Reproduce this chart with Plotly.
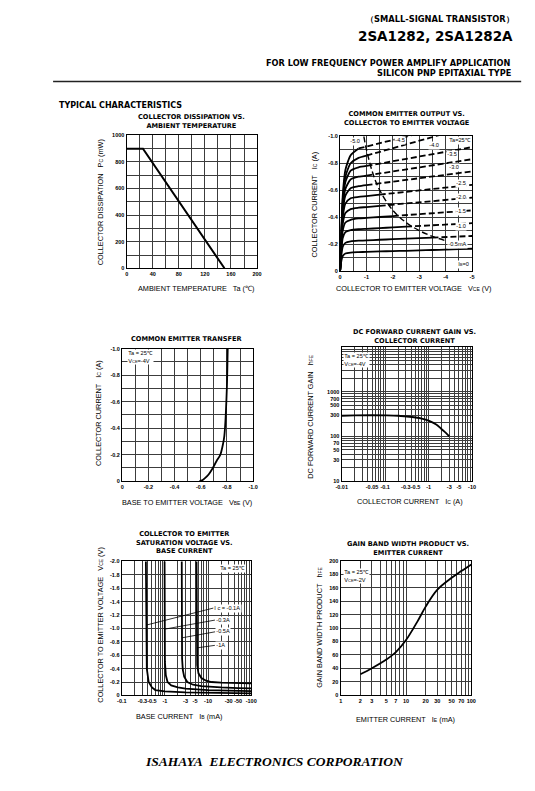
import numpy as np
import plotly.graph_objects as go

# page is 535x791; the browser body has an 8px margin, so the figure is 8px smaller
OFF = 8
FW, FH = 535 - OFF, 791 - OFF

# ---------------- DATA ----------------
# 1. Collector dissipation vs ambient temperature
ta_c = [0, 25, 150]
pc_mw = [900, 900, 0]
p1_xvals = [0, 20, 40, 60, 80, 100, 120, 140, 160, 180, 200]
p1_xtext = ['0', '', '40', '', '80', '', '120', '', '160', '', '200']
p1_yvals = [0, 100, 200, 300, 400, 500, 600, 700, 800, 900, 1000]
p1_ytext = ['0', '', '200', '', '400', '', '600', '', '800', '', '1000']

# 2. Common emitter output (magnitudes, V and A)
vce_grid = [0, 0.05, 0.1, 0.2, 0.4, 0.7, 1.0, 1.5, 2.0, 2.5, 3.0, 3.5, 4.0, 4.5, 5.0]
ic_curves = [
    [0, .077, .112, .130, .137, .140, .142, .145, .148, .150, .153, .156, .159, .162, .165],
    [0, .12, .18, .209, .22, .225, .227, .232, .236, .240, .244, .248, .252, .256, .260],
    [0, .16, .245, .288, .303, .310, .313, .318, .324, .329, .334, .339, .345, .350, .355],
    [0, .20, .30, .36, .38, .39, .394, .401, .408, .415, .422, .429, .436, .443, .450],
    [0, .22, .35, .43, .46, .47, .475, .484, .493, .501, .510, .519, .528, .536, .545],
    [0, .24, .40, .50, .54, .55, .556, .567, .577, .588, .598, .609, .619, .630, .640],
    [0, .26, .44, .56, .615, .63, .638, .650, .663, .676, .689, .702, .714, .727, .740],
    [0, .27, .47, .61, .68, .70, .709, .724, .739, .754, .770, .785, .800, .815, .830],
    [0, .28, .50, .66, .745, .77, .780, .798, .815, .833, .850, .868, .885, .903, .920],
    [0, .29, .53, .70, .80, .84, .857, .884, .912, .939, .967, .994, 1.02, 1.05, 1.07],
    [0, .30, .56, .75, .86, .91, .925, .948, .970, .995, 1.02, 1.045, 1.07, 1.09, 1.11],
]
pc_limit_w = 0.9
pd_vce = [0.9, 1.0, 1.25, 1.5, 2.0, 2.5, 3.0, 3.5, 4.0]
pd_ic = [1.0, 0.9, 0.72, 0.6, 0.45, 0.36, 0.30, 0.257, 0.225]
p2_xvals = [0, -0.5, -1, -1.5, -2, -2.5, -3, -3.5, -4, -4.5, -5]
p2_xtext = ['0', '', '-1', '', '-2', '', '-3', '', '-4', '', '-5']
ic_vals = [0, -0.1, -0.2, -0.3, -0.4, -0.5, -0.6, -0.7, -0.8, -0.9, -1.0]
ic_text = ['0', '', '-0.2', '', '-0.4', '', '-0.6', '', '-0.8', '', '-1.0']
ib_labels = ['-5.0', '-4.5', '-4.0', '-3.5', '-3.0', '-2.5', '-2.0', '-1.5', '-1.0', '-0.5mA']

# 3. Common emitter transfer
vbe_v = [0.59, 0.61, 0.63, 0.66, 0.69, 0.72, 0.75, 0.77, 0.78, 0.79, 0.80, 0.806]
ic_t = [0, 0.005, 0.02, 0.05, 0.095, 0.15, 0.20, 0.28, 0.34, 0.48, 0.72, 1.0]
p3_xvals = [0, -0.1, -0.2, -0.3, -0.4, -0.5, -0.6, -0.7, -0.8, -0.9, -1.0]
p3_xtext = ['0', '', '-0.2', '', '-0.4', '', '-0.6', '', '-0.8', '', '-1.0']

# 4. DC forward current gain
ic_h = [0.01, 0.02, 0.05, 0.1, 0.2, 0.3, 0.5, 0.7, 1.0, 1.5, 2.0, 2.5, 3.0]
hfe = [290, 295, 298, 296, 290, 280, 265, 250, 225, 185, 145, 120, 100]
p4_xlab = {0.01: '-0.01', 0.05: '-0.05', 0.1: '-0.1', 0.3: '-0.3', 0.5: '-0.5',
           1: '-1', 3: '-3', 5: '-5', 10: '-10'}
p4_ylab = {10: '10', 30: '30', 50: '50', 70: '70', 100: '100', 300: '300',
           500: '500', 700: '700', 1000: '1000'}

# 5. Vce(sat) vs base current (magnitudes)
ib_c1 = [0.36, 0.365, 0.38, 0.42, 0.5, 0.6, 1.0, 3, 10, 30, 100]
vs_c1 = [2.2, 1.0, 0.4, 0.2, 0.12, 0.08, 0.06, 0.045, 0.038, 0.033, 0.03]
ib_c2 = [0.98, 0.99, 1.0, 1.05, 1.15, 1.4, 2, 3, 5, 10, 30, 100]
vs_c2 = [2.2, 1.0, 0.5, 0.3, 0.2, 0.15, 0.12, 0.1, 0.09, 0.08, 0.072, 0.065]
ib_c3 = [2.45, 2.48, 2.5, 2.6, 2.8, 3.3, 4.5, 7, 10, 20, 50, 100]
vs_c3 = [2.2, 1.0, 0.55, 0.38, 0.28, 0.2, 0.16, 0.14, 0.13, 0.12, 0.11, 0.105]
ib_c4 = [5.4, 5.45, 5.5, 5.6, 6.0, 7.0, 9, 12, 20, 40, 100]
vs_c4 = [2.2, 1.0, 0.6, 0.45, 0.33, 0.26, 0.22, 0.2, 0.19, 0.185, 0.18]
p5_xlab = {0.1: '-0.1', 0.3: '-0.3', 0.5: '-0.5', 1: '-1', 3: '-3', 5: '-5',
           10: '-10', 30: '-30', 50: '-50', 100: '-100'}
p5_yvals = [0, -0.2, -0.4, -0.6, -0.8, -1.0, -1.2, -1.4, -1.6, -1.8, -2.0]
p5_ytext = ['0', '-0.2', '-0.4', '-0.6', '-0.8', '-1.0', '-1.2', '-1.4', '-1.6', '-1.8', '-2.0']
ic_sat_labels = ['I c = -0.1A', '-0.3A', '-0.5A', '-1A']

# 6. Gain band width product vs emitter current
ie_ma = [2, 3, 5, 7, 10, 15, 20, 30, 50, 70, 100]
ft_v = [31, 40, 53, 64, 82, 110, 132, 157, 175, 185, 195]
p6_xlab = {1: '1', 2: '2', 3: '3', 5: '5', 7: '7', 10: '10', 20: '20', 30: '30',
           50: '50', 70: '70', 100: '100'}
p6_yvals = list(range(0, 201, 20))

# ---------------- HELPERS ----------------
def log_grid(lo_exp, hi_exp):
    vals = []
    for e in range(lo_exp, hi_exp):
        for m in range(1, 10):
            vals.append(round(m * 10 ** e, 6))
    vals.append(round(10 ** hi_exp, 6))
    return vals

def labelled(vals, labmap):
    out = []
    for v in vals:
        key = int(v) if float(v).is_integer() else v
        out.append(labmap.get(key, ''))
    return out

def px(x):
    return (x - OFF) / FW

def py(y):
    return 1 - (y - OFF) / FH

def dx(a, b):
    return [px(a), px(b)]

def dy(a, b):
    return [py(b), py(a)]

GRID = '#3c3c3c'
TF = dict(family='Liberation Sans, Arial, sans-serif', size=5.5, color='black', weight='bold')

def axis(domain, anchor, rng, tickvals, ticktext, typ='linear'):
    return dict(domain=domain, anchor=anchor, range=rng, type=typ, tickmode='array',
                tickvals=tickvals, ticktext=ticktext, showgrid=True, gridcolor=GRID,
                gridwidth=0.9, showline=True, mirror=True, linecolor='black',
                linewidth=1.4, zeroline=False, ticks='', tickfont=TF, tickangle=0,
                fixedrange=True)

fig = go.Figure()
LW = 1.8

# Plot 1
fig.add_trace(go.Scatter(x=ta_c, y=pc_mw, mode='lines', line=dict(color='black', width=2),
                         xaxis='x', yaxis='y', showlegend=False))

# Plot 2
vg = np.array(vce_grid)
for cur in ic_curves:
    ic = np.array(cur)
    over = np.where(vg * ic > pc_limit_w)[0]
    k = over[0] - 1 if len(over) else len(vg) - 1
    fig.add_trace(go.Scatter(x=-vg[:k + 1], y=-ic[:k + 1], mode='lines',
                             line=dict(color='black', width=LW, shape='spline', smoothing=0.6),
                             xaxis='x2', yaxis='y2', showlegend=False))
    if k < len(vg) - 1:
        fig.add_trace(go.Scatter(x=-vg[k:], y=-ic[k:], mode='lines',
                                 line=dict(color='black', width=LW, dash='6px,3px'),
                                 xaxis='x2', yaxis='y2', showlegend=False))
fig.add_trace(go.Scatter(x=-np.array(pd_vce), y=-np.array(pd_ic), mode='lines',
                         line=dict(color='black', width=1.4, dash='6px,3px', shape='spline'),
                         xaxis='x2', yaxis='y2', showlegend=False))

# Plot 3
fig.add_trace(go.Scatter(x=-np.array(vbe_v), y=-np.array(ic_t), mode='lines',
                         line=dict(color='black', width=LW, shape='spline', smoothing=0.7),
                         xaxis='x3', yaxis='y3', showlegend=False))

# Plot 4
fig.add_trace(go.Scatter(x=ic_h, y=hfe, mode='lines',
                         line=dict(color='black', width=LW, shape='spline'),
                         xaxis='x4', yaxis='y4', showlegend=False))

# Plot 5
for ib, vs in [(ib_c1, vs_c1), (ib_c2, vs_c2), (ib_c3, vs_c3), (ib_c4, vs_c4)]:
    fig.add_trace(go.Scatter(x=ib, y=-np.array(vs), mode='lines',
                             line=dict(color='black', width=LW),
                             xaxis='x5', yaxis='y5', showlegend=False))

# Plot 6
fig.add_trace(go.Scatter(x=ie_ma, y=ft_v, mode='lines',
                         line=dict(color='black', width=LW, shape='spline'),
                         xaxis='x6', yaxis='y6', showlegend=False))

# ---------------- AXES ----------------
p4x = log_grid(-2, 1)
p4y = log_grid(1, 4)
p5x = log_grid(-1, 2)
p6x = log_grid(0, 2)

layout = dict(
    width=FW, height=FH, margin=dict(l=0, r=0, t=0, b=0, pad=0), autosize=False,
    paper_bgcolor='white', plot_bgcolor='white', showlegend=False,
    xaxis=axis(dx(123.3, 256.7), 'y', [0, 200], p1_xvals, p1_xtext),
    yaxis=axis(dy(133.3, 267.3), 'x', [0, 1000], p1_yvals, p1_ytext),
    xaxis2=axis(dx(341.7, 476.7), 'y2', [0, -5], p2_xvals, p2_xtext),
    yaxis2=axis(dy(134.3, 270), 'x2', [0, -1.0], ic_vals, ic_text),
    xaxis3=axis(dx(118.7, 252.7), 'y3', [0, -1.0], p3_xvals, p3_xtext),
    yaxis3=axis(dy(348.3, 481.7), 'x3', [0, -1.0], ic_vals, ic_text),
    xaxis4=axis(dx(343.3, 476.7), 'y4', [-2, 1], p4x, labelled(p4x, p4_xlab), 'log'),
    yaxis4=axis(dy(346.7, 481.7), 'x4', [1, 4], p4y, labelled(p4y, p4_ylab), 'log'),
    xaxis5=axis(dx(118.3, 250.7), 'y5', [-1, 2], p5x, labelled(p5x, p5_xlab), 'log'),
    yaxis5=axis(dy(562.7, 697.7), 'x5', [0, -2.0], p5_yvals, p5_ytext),
    xaxis6=axis(dx(342.3, 476.0), 'y6', [0, 2], p6x, labelled(p6x, p6_xlab), 'log'),
    yaxis6=axis(dy(562.3, 697.3), 'x6', [0, 200], p6_yvals, [str(v) for v in p6_yvals]),
)
fig.update_layout(**layout)

# ---------------- TEXT ----------------
ann = []
SANS = 'Liberation Sans, Arial, sans-serif'
DJ = 'DejaVu Sans, sans-serif'
NB = '\u00a0\u00a0\u00a0'

def ptxt(x, y, text, size, family=SANS, weight='normal', xanchor='center', angle=0, style='normal'):
    ann.append(dict(x=px(x), y=py(y), xref='paper', yref='paper', text=text, showarrow=False,
                    xanchor=xanchor, yanchor='middle', textangle=angle,
                    font=dict(family=family, size=size, color='black', weight=weight, style=style)))

def sm(t, s=5):
    return "<span style='font-size:%spx'>%s</span>" % (s, t)

# header
ptxt(522, 16, '\uff08SMALL-SIGNAL TRANSISTOR\uff09', 8.3, DJ, 'bold', 'right')
ptxt(521, 33, '2SA1282, 2SA1282A', 13.5, DJ, 'bold', 'right')
ptxt(519, 60.5, 'FOR LOW FREQUENCY POWER AMPLIFY APPLICATION', 8.2, DJ, 'bold', 'right')
ptxt(519, 70.5, 'SILICON PNP EPITAXIAL TYPE', 8.2, DJ, 'bold', 'right')
ptxt(52, 103.5, 'TYPICAL CHARACTERISTICS', 8, DJ, 'bold', 'left')

# subplot titles
ptxt(190, 119.5, 'COLLECTOR DISSIPATION VS.<br>AMBIENT TEMPERATURE', 6.6, DJ, 'bold')
ptxt(410, 116, 'COMMON EMITTER OUTPUT VS.<br>COLLECTOR TO EMITTER VOLTAGE', 6.6, DJ, 'bold')
ptxt(185, 339, 'COMMON EMITTER TRANSFER', 6.6, DJ, 'bold')
ptxt(418, 336, 'DC FORWARD CURRENT GAIN VS.<br>COLLECTOR CURRENT', 6.6, DJ, 'bold')
ptxt(182.5, 544, 'COLLECTOR TO EMITTER<br>SATURATION VOLTAGE VS.<br>BASE CURRENT', 6.6, DJ, 'bold')
ptxt(411, 549.5, 'GAIN BAND WIDTH PRODUCT VS.<br>EMITTER CURRENT', 6.6, DJ, 'bold')

# axis titles
AS = 7.3
ptxt(96.7, 201, 'COLLECTOR DISSIPATION' + NB + 'P' + sm('C') + ' (mW)', AS, angle=-90)
ptxt(194, 288, 'AMBIENT TEMPERATURE' + NB + 'Ta (\u2103)', AS)
ptxt(315, 203, 'COLLECTOR CURRENT' + NB + 'I' + sm('C') + ' (A)', AS, angle=-90)
ptxt(417, 288, 'COLLECTOR TO EMITTER VOLTAGE' + NB + 'V' + sm('CE') + ' (V)', AS)
ptxt(95, 413, 'COLLECTOR CURRENT' + NB + 'I' + sm('C') + ' (A)', AS, angle=-90)
ptxt(185, 503, 'BASE TO EMITTER VOLTAGE' + NB + 'V' + sm('BE') + ' (V)', AS)
ptxt(311.7, 417, 'DC FORWARD CURRENT GAIN' + NB + 'h' + sm('FE'), AS, angle=-90)
ptxt(413, 502.7, 'COLLECTOR CURRENT' + NB + 'I' + sm('C') + ' (A)', AS)
ptxt(96.7, 626.7, 'COLLECTOR TO EMITTER VOLTAGE' + NB + 'V' + sm('CE') + ' (V)', AS, angle=-90)
ptxt(176.7, 719.3, 'BASE CURRENT' + NB + 'I' + sm('B') + ' (mA)', AS)
ptxt(320.7, 629, 'GAIN BAND WIDTH PRODUCT' + NB + 'h' + sm('FE'), AS, angle=-90)
ptxt(409, 721.7, 'EMITTER CURRENT' + NB + 'I' + sm('E') + ' (mA)', AS)

# footer
ptxt(275, 764, 'ISAHAYA\u00a0\u00a0ELECTRONICS CORPORATION', 13.5, 'Liberation Serif, Times New Roman, serif',
     'bold', style='italic')

# in-plot labels
LF = dict(family=SANS, size=5.6, color='black')

def dtxt(xr, yr, x, y, text, xanchor='center', bg='white'):
    ann.append(dict(x=x, y=y, xref=xr, yref=yr, text=text, showarrow=False, xanchor=xanchor,
                    yanchor='middle', font=LF, bgcolor=bg, borderpad=0.3, align='left'))

# plot 2 labels
p2_pos = [(0.55, 0.965), (2.27, 0.97), (3.55, 0.93), (4.25, 0.865), (4.3, 0.77),
          (4.6, 0.65), (4.6, 0.547), (4.6, 0.44), (4.6, 0.33), (4.45, 0.20)]
for lab, (vx, iy) in zip(ib_labels, p2_pos):
    dtxt('x2', 'y2', -vx, -iy, lab)
dtxt('x2', 'y2', -4.55, -0.97, 'Ta=25\u2103')
dtxt('x2', 'y2', -4.68, -0.05, 'I' + sm('B', 4) + '=0')

# plot 3 / 4 / 5 / 6 condition boxes
dtxt('x3', 'y3', -0.04, -0.935, 'Ta = 25\u2103<br>V' + sm('CE', 4) + '=-4V', 'left')
dtxt('x4', 'y4', np.log10(0.0107), np.log10(5200), 'Ta = 25\u2103<br>V' + sm('CE', 4) + '=-4V', 'left')
dtxt('x5', 'y5', np.log10(75), -1.9, 'Ta = 25\u2103', 'right')
dtxt('x6', 'y6', np.log10(1.07), 178, 'Ta = 25\u2103<br>V' + sm('CE', 4) + '=-2V', 'left')

# plot 5 arrows
arrows = [(0.37, -1.05, 67, -17), (1.0, -0.99, 50, -9), (2.5, -0.86, 33, -6), (5.5, -0.71, 18, -2.5)]
for lab, (xb, yv, axp, ayp) in zip(ic_sat_labels, arrows):
    ann.append(dict(x=np.log10(xb), y=yv, xref='x5', yref='y5', text=lab, showarrow=True,
                    arrowhead=0, arrowwidth=0.8, arrowcolor='black', ax=axp, ay=ayp,
                    xanchor='left', yanchor='middle', font=LF, bgcolor='white', borderpad=0.3))

fig.update_layout(annotations=ann)

# header rule
fig.add_shape(type='line', xref='paper', yref='paper', x0=px(48), x1=px(527),
              y0=py(79), y1=py(79), line=dict(color='#222', width=1.6))

fig.write_html('out.html')
